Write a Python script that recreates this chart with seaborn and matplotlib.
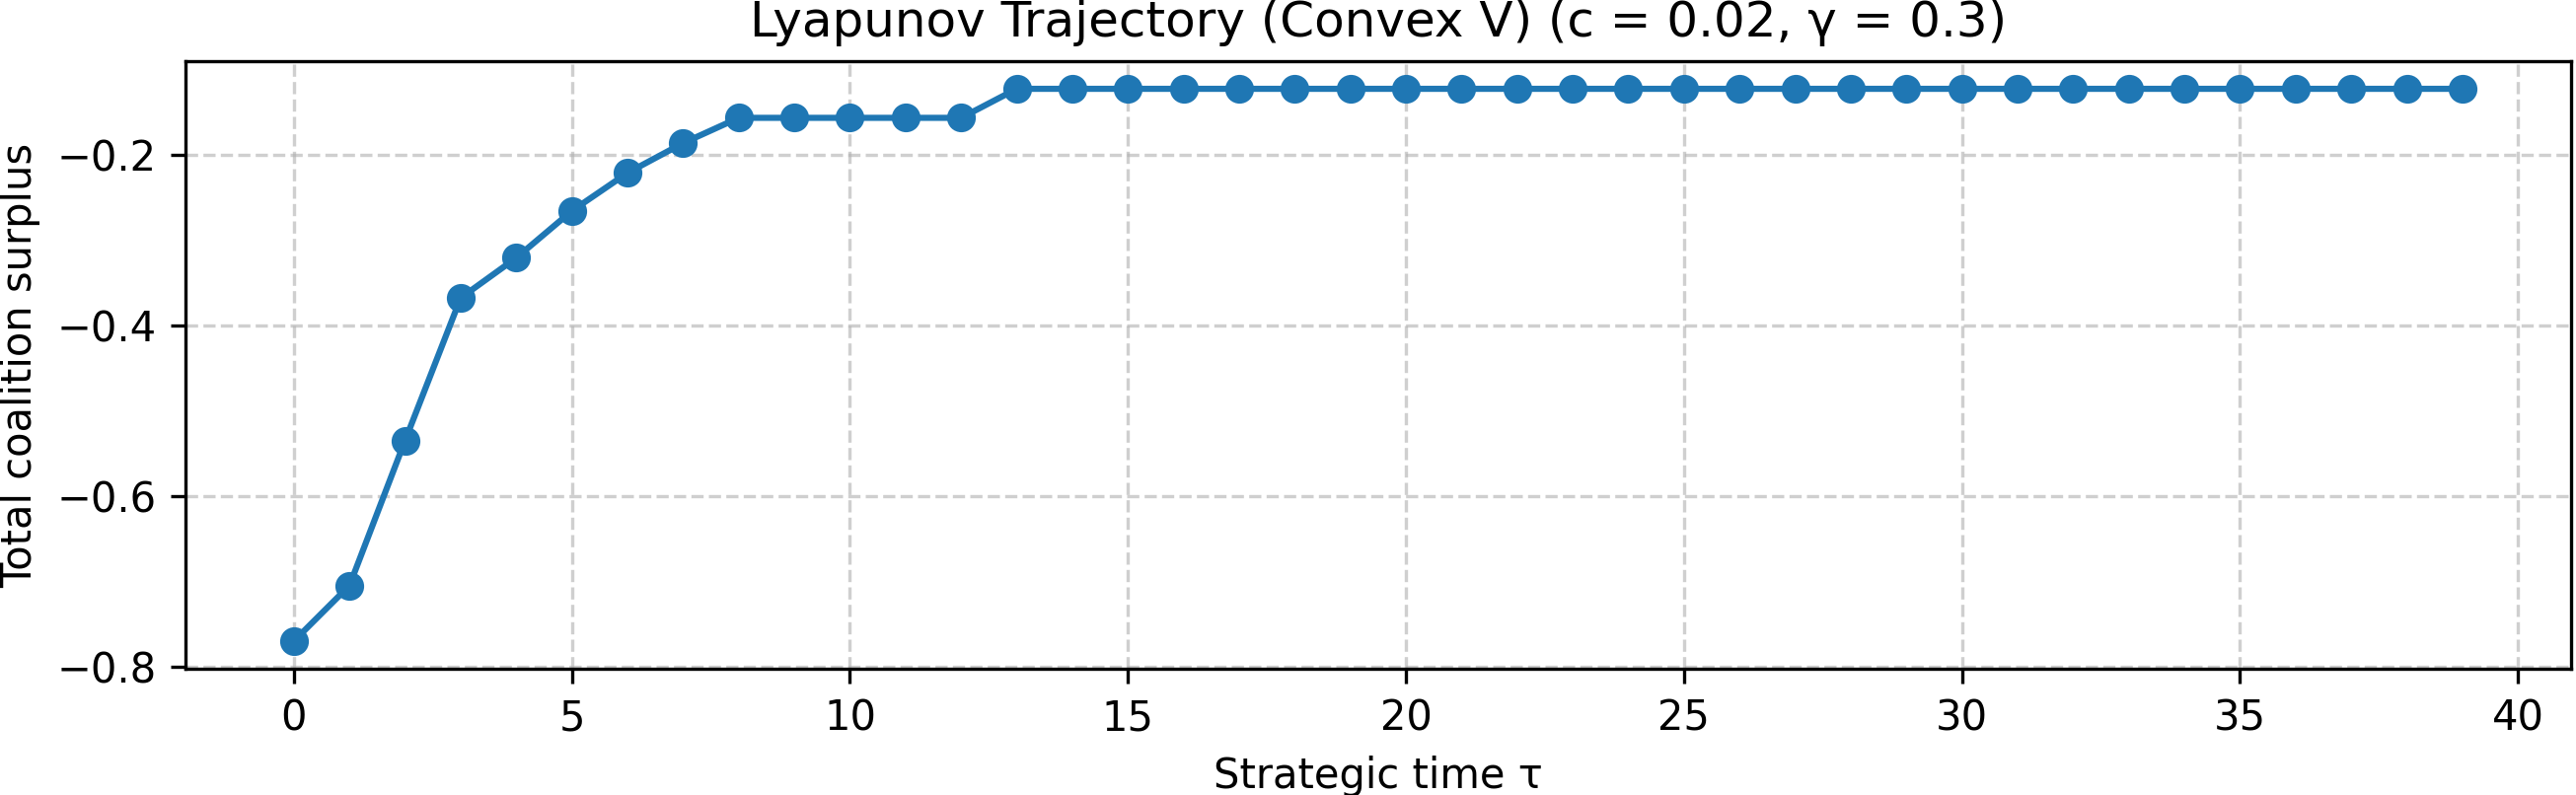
import matplotlib
matplotlib.use("Agg")
import matplotlib.pyplot as plt
import seaborn as sns
import pandas as pd

# Lyapunov trajectory values
tau = list(range(40))
surplus = [-0.770, -0.705, -0.535, -0.368, -0.321, -0.266, -0.2215, -0.1866,
           -0.157, -0.157, -0.157, -0.157, -0.157] + [-0.123] * 27

df = pd.DataFrame({"tau": tau, "surplus": surplus})

fig, ax = plt.subplots(figsize=(2611 / 300, 806 / 300), dpi=300)

sns.lineplot(data=df, x="tau", y="surplus", ax=ax,
             color="#1f77b4", marker="o", markersize=6,
             markeredgecolor="#1f77b4", markeredgewidth=1, linewidth=1.5)

ax.set_title("Lyapunov Trajectory (Convex V) (c = 0.02, γ = 0.3)", fontsize=12)
ax.set_xlabel("Strategic time τ")
ax.set_ylabel("Total coalition surplus")
ax.grid(True, linestyle="--", alpha=0.6)

fig.subplots_adjust(left=0.072, right=0.998, top=0.923, bottom=0.159)
fig.savefig("out.png", dpi=300)
